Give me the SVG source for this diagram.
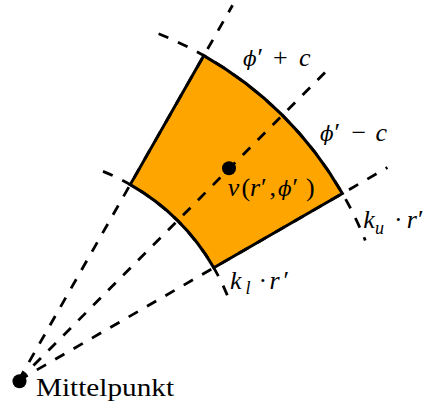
<svg xmlns="http://www.w3.org/2000/svg" width="426" height="403" viewBox="0 0 426 403">
<style>
.dash{fill:none;stroke:#000;stroke-width:2.8;stroke-dasharray:10.6 10.6}
.sec{fill:#FFA500;stroke:#000;stroke-width:3;stroke-linejoin:miter}
.dot{fill:#000}
text{font-family:"Liberation Serif",serif;font-size:26px;fill:#000}
.m{font-style:italic}
.up{font-style:normal}
.pr{font-style:normal;font-size:26px}
.g{font-family:"DejaVu Serif",serif;font-size:20px}
</style>
<rect width="426" height="403" fill="#fff"/>
<g id="sector">
<path class="sec" d="M 130.23 184.62 L 203.8 55.63 A 374 374 0 0 1 342.39 193.5 L 213.79 267.75 A 225.5 225.5 0 0 0 130.23 184.62 Z"/>
</g>
<g id="connectors">
<line class="dash" x1="18.5" y1="380.5" x2="387.43" y2="167.5"/>
<line class="dash" x1="18.5" y1="380.5" x2="326.7" y2="70.7"/>
<line class="dash" x1="18.5" y1="380.5" x2="232.54" y2="5.25"/>
<path class="dash" d="M 158.6 33.73 A 374 374 0 0 1 365.27 240.4"/>
<path class="dash" d="M 102.97 171.42 A 225.5 225.5 0 0 1 227.58 296.03"/>
</g>
<g id="center">
<circle class="dot" cx="19.5" cy="381.3" r="7"/>
<text x="36" y="396" textLength="138" lengthAdjust="spacingAndGlyphs">Mittelpunkt</text>
</g>
<g id="v">
<circle class="dot" cx="229" cy="168.3" r="7"/>
<text class="m" y="196"><tspan x="227.7">v</tspan><tspan class="up" x="241.5">(</tspan><tspan x="250">r</tspan><tspan class="pr" x="261">′</tspan><tspan class="up" x="269.5">,</tspan><tspan class="g" x="278">ϕ</tspan><tspan class="pr" x="292.5">′</tspan><tspan class="up" x="306">)</tspan></text>
</g>
<g id="label-phi-plus">
<text class="m" y="66"><tspan class="g" x="243">ϕ</tspan><tspan class="pr" x="257.5">′</tspan><tspan class="up" x="273">+</tspan><tspan x="299">c</tspan></text>
</g>
<g id="label-phi-minus">
<text class="m" y="140.7"><tspan class="g" x="320">ϕ</tspan><tspan class="pr" x="334.5">′</tspan><tspan class="up" x="351.5">−</tspan><tspan x="375.5">c</tspan></text>
</g>
<g id="label-ku">
<text class="m" y="228.3"><tspan x="363.3">k</tspan><tspan font-size="18" x="375" y="233.5">u</tspan><tspan class="up" x="394" y="228.3">·</tspan><tspan x="406.7">r</tspan><tspan class="pr" x="418">′</tspan></text>
</g>
<g id="label-kl">
<text class="m" y="289.3"><tspan x="230">k</tspan><tspan font-size="18" x="245.5" y="293.5">l</tspan><tspan class="up" x="258.5" y="289.3">·</tspan><tspan x="269.5">r</tspan><tspan class="pr" x="283.5">′</tspan></text>
</g>
</svg>
